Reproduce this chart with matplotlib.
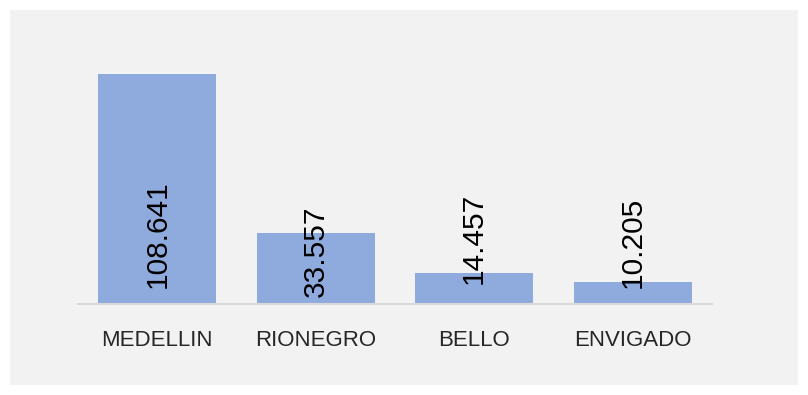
import matplotlib.pyplot as plt
from matplotlib.patches import Rectangle

cities = ["MEDELLIN", "RIONEGRO", "BELLO", "ENVIGADO"]
values = [108.641, 33.557, 14.457, 10.205]
value_labels = ["108.641", "33.557", "14.457", "10.205"]
# offset of each value label above the base (pixels), as in the original
label_pad = [16, 7, 20, 16]

plt.rcParams['font.family'] = ['Liberation Sans', 'DejaVu Sans']

fig = plt.figure(figsize=(8.08, 3.95), dpi=100)
fig.patch.set_facecolor('white')
# grey chart area
fig.patches.append(Rectangle((10 / 808, 10 / 395), 788 / 808, 375 / 395,
                             transform=fig.transFigure, facecolor='#f2f2f2',
                             edgecolor='none', zorder=-1))

ax = fig.add_axes([78 / 808, (395 - 304) / 395, 634 / 808, 274.7 / 395])
ax.set_facecolor('none')

x = range(len(cities))
ax.bar(x, values, width=0.747, color='#8faadc')
ax.set_xlim(-0.5, 3.5)
ax.set_ylim(0, 130)

for xi, lab, pad in zip(x, value_labels, label_pad):
    ax.annotate(lab, (xi, 0), xytext=(0, pad * 0.72), textcoords='offset points',
                rotation=90, ha='center', va='bottom', fontsize=21.5, color='black')

ax.set_xticks(list(x))
ax.set_xticklabels(cities, fontsize=16, color='#262626')
ax.tick_params(axis='x', length=0, pad=19)
ax.set_yticks([])
for s in ['top', 'right', 'left']:
    ax.spines[s].set_visible(False)
ax.spines['bottom'].set_color('#d9d9d9')
ax.spines['bottom'].set_linewidth(1.5)

fig.savefig('out.png', dpi=100)
